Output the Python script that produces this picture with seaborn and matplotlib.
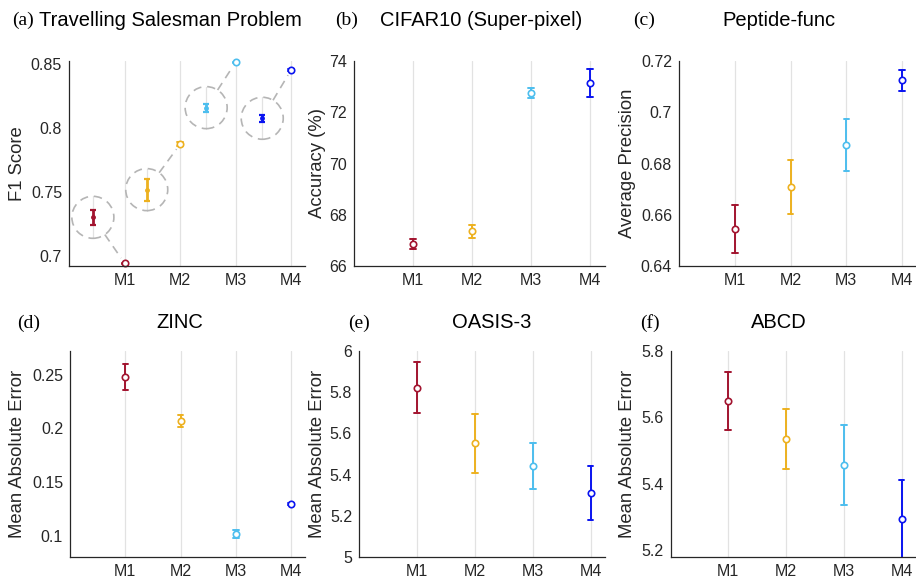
#!/usr/bin/env python
# coding: utf-8

# Six panel comparison of models M1-M4 (mean +/- error), matlab-like look

import numpy as np
import pandas as pd
import matplotlib
matplotlib.use("Agg")
import matplotlib.pyplot as plt
import seaborn as sns
from matplotlib.patches import Ellipse
from matplotlib.ticker import FuncFormatter

sns.set_style("white")
plt.rcParams['font.family'] = ['Liberation Sans', 'DejaVu Sans']

models = ["M1", "M2", "M3", "M4"]
colors = ["#A2142F", "#EDB120", "#4DBEEE", "#0A14F0"]

# values
tsp_mean = [0.6943, 0.7870, 0.8510, 0.8450]
tsp_err = [0.0004, 0.0015, 0.0005, 0.0005]
cifar_mean = [66.87, 67.35, 72.75, 73.13]
cifar_err = [0.19, 0.26, 0.18, 0.55]
pep_mean = [0.6545, 0.6709, 0.6872, 0.7124]
pep_err = [0.0093, 0.0105, 0.0101, 0.0042]
zinc_mean = [0.2480, 0.2068, 0.1013, 0.1293]
zinc_err = [0.0122, 0.0052, 0.0039, 0.0008]
oasis_mean = [5.822, 5.551, 5.440, 5.311]
oasis_err = [0.125, 0.141, 0.111, 0.130]
abcd_mean = [5.649, 5.534, 5.458, 5.295]
abcd_err = [0.088, 0.090, 0.120, 0.118]

# magnified TSP error bars drawn inside the dashed circles
tsp_zoom_x = [-0.57, 0.40, 1.47, 2.48]
tsp_zoom_y = [0.7300, 0.7516, 0.8156, 0.8073]
tsp_zoom_err = [0.0058, 0.0086, 0.0031, 0.0029]

panels = [
    # letter, title, ylabel, means, errs, ylim, yticks
    ("(a)", "Travelling Salesman Problem", "F1 Score", tsp_mean, tsp_err,
     (0.692, 0.852), [0.7, 0.75, 0.8, 0.85]),
    ("(b)", "CIFAR10 (Super-pixel)", "Accuracy (%)", cifar_mean, cifar_err,
     (66, 74), [66, 68, 70, 72, 74]),
    ("(c)", "Peptide-func", "Average Precision", pep_mean, pep_err,
     (0.64, 0.72), [0.64, 0.66, 0.68, 0.70, 0.72]),
    ("(d)", "ZINC", "Mean Absolute Error", zinc_mean, zinc_err,
     (0.08, 0.272), [0.1, 0.15, 0.2, 0.25]),
    ("(e)", "OASIS-3", "Mean Absolute Error", oasis_mean, oasis_err,
     (5.0, 6.0), [5.0, 5.2, 5.4, 5.6, 5.8, 6.0]),
    ("(f)", "ABCD", "Mean Absolute Error", abcd_mean, abcd_err,
     (5.18, 5.8), [5.2, 5.4, 5.6, 5.8]),
]

W, H = 916, 581
# axes boxes in pixels: left, right, top, bottom
boxes = [(69, 305, 61, 266), (354, 605, 61, 266), (679, 916, 61, 266),
         (70, 305, 351, 557), (359, 605, 351, 557), (670.5, 916, 351, 557)]
# title text placement in pixels: letter left, title x, title align, y
title_pos = [(12, 39, "left", 20), (335, 481, "center", 20), (633, 779, "center", 20),
             (17, 180, "center", 323), (348, 492, "center", 323), (640, 779, "center", 323)]
ylabel_x = [17.5, 318, 628, 18, 317.5, 628]

dark = "#262626"
fig = plt.figure(figsize=(W / 100, H / 100), dpi=100)

axes = []
for i, (letter, title, ylab, mean, err, ylim, yticks) in enumerate(panels):
    l, r, t, b = boxes[i]
    ax = fig.add_axes([l / W, 1 - b / H, (r - l) / W, (b - t) / H])
    axes.append(ax)

    # long form table: mean +/- err so that pi(100) gives the bar ends
    rows = []
    for m, mu, e in zip(models, mean, err):
        for v in (mu - e, mu, mu + e):
            rows.append({"model": m, "value": v})
    df = pd.DataFrame(rows)

    sns.pointplot(data=df, x="model", y="value", hue="model", order=models,
                  hue_order=models, palette=colors, estimator="mean",
                  errorbar=("pi", 100), capsize=0.1, linestyles="none",
                  markers="o", markersize=4.6, markeredgewidth=1.2,
                  markerfacecolor="white", clip_on=False,
                  err_kws={"linewidth": 1.4, "zorder": 1.5},
                  legend=False, ax=ax)

    ax.set_xlim(-1, 3.25)
    ax.set_ylim(*ylim)
    ax.set_xticks(range(4))
    ax.set_xticklabels(models)
    ax.set_yticks(yticks)
    ax.yaxis.set_major_formatter(FuncFormatter(lambda v, p: "%g" % round(v, 4)))
    ax.set_xlabel("")
    ax.grid(axis="x", color="#e2e2e2", linewidth=0.9)
    ax.grid(axis="y", visible=False)
    ax.set_axisbelow(True)
    for s in ["top", "right"]:
        ax.spines[s].set_visible(False)
    for s in ["left", "bottom"]:
        ax.spines[s].set_color(dark)
        ax.spines[s].set_linewidth(0.9)
    ax.tick_params(direction="in", length=3, width=0.8, color=dark,
                   labelcolor=dark, labelsize=11.5, pad=5)

    ax.set_ylabel(ylab, fontsize=13.3, color=dark)
    ax.yaxis.set_label_coords((ylabel_x[i] - l) / (r - l), 0.5)
    ax.yaxis.label.set_verticalalignment("center")

    lx, tx, ha, ty = title_pos[i]
    fig.text(lx / W, 1 - ty / H, letter, family=["Liberation Serif", "DejaVu Serif"],
             fontsize=14, va="center", ha="left", color="black")
    fig.text(tx / W, 1 - ty / H, title, fontsize=14.5, va="center", ha=ha,
             color="black")

# dashed zoom circles for the TSP panel
ax = axes[0]
rad = 21.0  # pixels
x_px = ax.transData.transform([(1, 0)])[0][0] - ax.transData.transform([(0, 0)])[0][0]
y_px = ax.transData.transform([(0, 1)])[0][1] - ax.transData.transform([(0, 0)])[0][1]
gray = "#b5b5b5"
for k in range(4):
    cx, cy = tsp_zoom_x[k], tsp_zoom_y[k]
    ax.add_patch(Ellipse((cx, cy), 2 * rad / x_px, 2 * rad / y_px, fill=False,
                         edgecolor=gray, linewidth=1.2, linestyle=(0, (5, 3.5)),
                         zorder=1))
    ax.plot([cx, cx], [cy - rad / y_px, cy + rad / y_px], color="#e2e2e2",
            linewidth=0.9, zorder=0.8)
    ax.errorbar([cx], [cy], yerr=[tsp_zoom_err[k]], color=colors[k], fmt="o",
                markersize=2.5, elinewidth=2.0, capsize=2.5, capthick=1.6,
                zorder=3)
    # connector from circle edge to the real point
    c = ax.transData.transform([(cx, cy)])[0]
    m = ax.transData.transform([(k, tsp_mean[k])])[0]
    d = (m - c) / np.hypot(*(m - c))
    p0 = ax.transData.inverted().transform([c + rad * d])[0]
    p1 = ax.transData.inverted().transform([m - 6 * d])[0]
    ax.plot([p0[0], p1[0]], [p0[1], p1[1]], color=gray, linewidth=1.2,
            linestyle=(0, (5, 3.5)), zorder=1)

fig.savefig("out.png", dpi=100)
